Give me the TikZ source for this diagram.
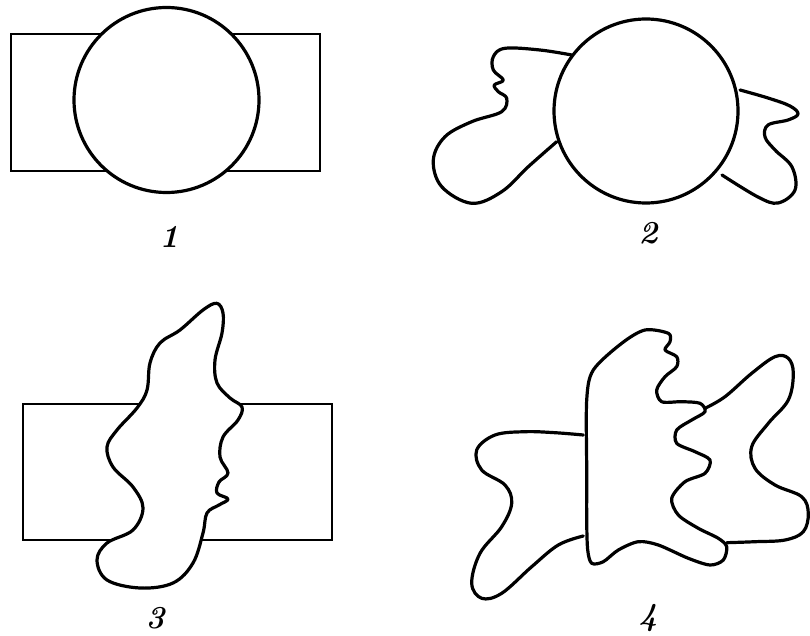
\documentclass[tikz,border=0pt]{standalone}
\begin{document}
\begin{tikzpicture}[x=1pt,y=-1pt,
  rectline/.style={line width=2.2pt},
  blob/.style={line width=3.2pt, line join=round, line cap=round},
  lbl/.style={font=\fontsize{32}{36}\selectfont\bfseries\itshape}]
\useasboundingbox (0,0) rectangle (810,636);
% panel 1
\draw[rectline] (11,34) rectangle (320,171);
\draw[blob, fill=white] (166.5,100) circle (92.5);
\node[lbl] (l1) at (169,237) {1};
% panel 2
\draw[blob] plot[smooth, tension=0.6] coordinates {(571.7,55) (540,50) (505,48.3) (493.3,56.7) (493.3,70) (503.3,80) (494.3,85) (498.3,91.7) (506.7,98.3) (501.7,111.7) (471.7,121.7) (445,136.7) (433.3,160) (441.7,186.7) (471.7,203.3) (501.7,191.7) (528.3,166.7) (556.7,141.7)};
\draw[blob] plot[smooth, tension=0.6] coordinates {(740,90) (768,98) (790,106) (798,114) (788,120) (768,125) (765,137) (775,150) (792,167) (795,190) (778,203) (758,197) (722,175)};
\draw[blob, fill=white] (646,111) circle (92);
\node[lbl] (l2) at (648,233) {2};
% panel 3
\draw[rectline] (22.7,404) rectangle (331.7,540);
\draw[blob, fill=white] plot[smooth cycle, tension=0.6] coordinates {(216.7,303.3) (223,313) (222,333) (215,360) (217,383) (230,398) (242,407) (238,420) (223,437) (220,457) (228,473) (219,482) (217,493) (228,499) (219,505) (207,513) (203,533) (193,563) (173,583) (140,588) (107,580) (97,560) (107,543) (133,530) (143,508) (133,487) (113,467) (107,447) (117,430) (137,408) (147,390) (150,363) (160,343) (180,330) (203,310)};
\node[lbl] (l3) at (155,618) {3};
% panel 4
\draw[blob] plot[smooth, tension=0.6] coordinates {(705,408.3) (725,396.7) (751.7,373.3) (775,356.7) (788.3,358.3) (793.3,373.3) (788.3,400) (768.3,423.3) (751.7,446.7) (755,468.3) (775,485) (801.7,496.7) (808.3,513.3) (803.3,531.7) (785,540) (755,541.7) (726.7,542.7)};
\draw[blob] plot[smooth, tension=0.6] coordinates {(583.3,435) (555,432.7) (525,431.7) (495,435) (476.7,450) (481.7,470) (505,485) (511.7,503.3) (501.7,526.7) (480,553.3) (471.7,583.3) (481.7,598.3) (501.7,593.3) (531.7,566.7) (558.3,545) (583.3,536)};
\draw[blob, fill=white] plot[smooth cycle, tension=0.5] coordinates {(586.7,470) (586.7,400) (593.3,370) (621.7,343.3) (645,330) (668.3,333.3) (670,341.7) (665,350) (676.7,356.7) (676.7,366.7) (665,376.7) (656.7,390) (661.7,401.7) (681.7,401.7) (700,403.3) (705,411.7) (691.7,420) (676.7,430) (676.7,443.3) (695,451.7) (710,460) (705,473.3) (685,481.7) (671.7,498.3) (678.3,515) (698.3,528.3) (718.3,538.3) (726.7,546.7) (723.3,560) (710,565) (688.3,558.3) (658.3,545) (638.3,541.7) (618.3,550) (603.3,561.7) (591.7,563.3) (587.7,550) (586.7,520)};
\node[lbl] (l4) at (648,618) {4};
\end{tikzpicture}
\end{document}
